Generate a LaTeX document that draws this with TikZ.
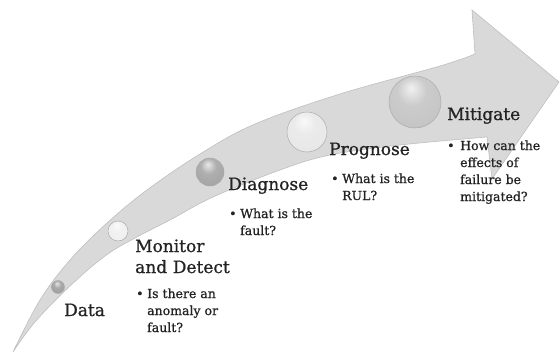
\documentclass[tikz,border=0pt]{standalone}
\usepackage{fontspec}
\setmainfont{DejaVu Serif}[BoldFont={DejaVu Serif}, BoldFeatures={FakeBold=1.0}]
\definecolor{arrowgray}{RGB}{217,217,217}
\definecolor{textgray}{RGB}{35,35,35}
% softer sphere than the built-in ball shading
\pgfdeclareradialshading[tikz@ball]{softball}{\pgfqpoint{-4bp}{14bp}}{%
  color(0bp)=(tikz@ball!25!white);
  color(14bp)=(tikz@ball!90!white);
  color(30bp)=(tikz@ball);
  color(42bp)=(tikz@ball!72!black);
  color(60bp)=(tikz@ball!50!black)}
\newcommand{\qbullet}[1]{\makebox[#1][l]{\textbullet}}
\begin{document}
\begin{tikzpicture}[
  x=1pt, y=-1pt,
  title/.style={
    anchor=base west,
    inner sep=0pt,
    text=textgray,
    align=left,
    text width=110pt,
    font=\fontsize{17}{21}\selectfont\bfseries
  },
  bulletlist/.style={
    anchor=base west,
    inner sep=0pt,
    text=textgray,
    font=\fontsize{12.5}{17}\selectfont\bfseries
  },
  stageball/.style={
    circle,
    inner sep=0pt,
    draw=gray!65,
    line width=0.5pt,
    ball color=#1,
    shading=softball
  }
]
\useasboundingbox (0,0) rectangle (560,354);

% the big curved arrow
\filldraw[fill=arrowgray, draw=gray!50, line width=0.6pt]
  plot[smooth, tension=0.6] coordinates {(13,352) (40,300) (70,260) (107,223)
    (147,190) (200,154) (255,124) (340,94) (440,66) (475,54)}
  -- (472,10) -- (559,82) -- (492,179) -- (487,137)
  -- plot[smooth, tension=0.6] coordinates {(487,137) (400,145) (330,155)
    (280,170) (213,197) (170,220) (135,238) (105,256) (70,286) (35,322) (13,352)}
  -- cycle;

% stages
\node (databall) [stageball=gray!75, minimum size=13pt] at (58,287) {};
\node (monball) [stageball=gray!12, minimum size=20pt] at (118,231) {};
\node (diagball) [stageball=gray!70, minimum size=28pt] at (210,172) {};
\node (progball) [stageball=gray!18, minimum size=40pt] at (307,132) {};
\node (mitball) [stageball=gray!45, minimum size=52pt] at (415,102) {};

\node (data) [title] at (64,316) {Data};
\node (mon) [title] at (135,252) {Monitor\\and Detect};
\node (diag) [title] at (228,190) {Diagnose};
\node (prog) [title] at (329,155) {Prognose};
\node (mit) [title] at (447,120) {Mitigate};

\node (monq) [bulletlist] at (136,298)
  {\begin{tabular}[t]{@{}l@{}l@{}}\qbullet{11pt} & Is there an\\ & anomaly or\\ & fault?\end{tabular}};
\node (diagq) [bulletlist] at (229,218)
  {\begin{tabular}[t]{@{}l@{}l@{}}\qbullet{11pt} & What is the\\ & fault?\end{tabular}};
\node (progq) [bulletlist] at (331,183)
  {\begin{tabular}[t]{@{}l@{}l@{}}\qbullet{11pt} & What is the\\ & RUL?\end{tabular}};
\node (mitq) [bulletlist] at (447,150)
  {\begin{tabular}[t]{@{}l@{}l@{}}\qbullet{13pt} & How can the\\ & effects of\\ & failure be\\ & mitigated?\end{tabular}};
\end{tikzpicture}
\end{document}
